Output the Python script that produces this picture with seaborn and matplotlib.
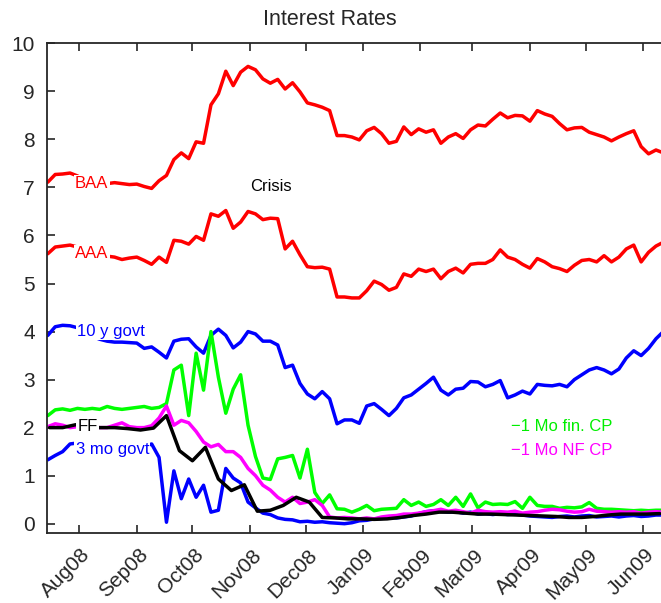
import pandas as pd
import matplotlib
matplotlib.use('Agg')
import matplotlib.pyplot as plt
import matplotlib.dates as mdates
import matplotlib.transforms as mtransforms
import seaborn as sns

# Daily-ish series, one value every 4 days from 15 Jul 2008
dates = pd.date_range('2008-07-15', periods=84, freq='4D')
# Fed funds is weekly (Wednesdays)
ff_dates = pd.date_range('2008-07-16', periods=48, freq='7D')

baa = [7.11, 7.27, 7.28, 7.30, 7.24, 7.15, 7.12, 7.10, 7.08, 7.10,
       7.08, 7.06, 7.07, 7.02, 6.98, 7.14, 7.25, 7.58, 7.72, 7.60,
       7.95, 7.92, 8.72, 8.95, 9.42, 9.12, 9.40, 9.52, 9.45, 9.26,
       9.17, 9.25, 9.05, 9.18, 8.99, 8.76, 8.72, 8.67, 8.60, 8.08,
       8.08, 8.05, 7.99, 8.18, 8.25, 8.12, 7.92, 7.96, 8.26, 8.10,
       8.22, 8.15, 8.20, 7.92, 8.05, 8.12, 8.02, 8.20, 8.30, 8.28,
       8.42, 8.55, 8.45, 8.50, 8.49, 8.38, 8.60, 8.53, 8.48, 8.33,
       8.20, 8.24, 8.25, 8.15, 8.10, 8.05, 7.97, 8.05, 8.12, 8.18,
       7.85, 7.70, 7.78, 7.72]

aaa = [5.62, 5.76, 5.78, 5.80, 5.76, 5.66, 5.60, 5.58, 5.57, 5.55,
       5.50, 5.53, 5.55, 5.48, 5.40, 5.55, 5.44, 5.90, 5.88, 5.82,
       5.98, 5.90, 6.45, 6.40, 6.52, 6.15, 6.28, 6.50, 6.45, 6.33,
       6.36, 6.35, 5.72, 5.88, 5.60, 5.35, 5.33, 5.34, 5.30, 4.72,
       4.72, 4.70, 4.70, 4.85, 5.05, 4.98, 4.86, 4.92, 5.20, 5.15,
       5.30, 5.25, 5.30, 5.10, 5.25, 5.32, 5.22, 5.40, 5.42, 5.42,
       5.50, 5.70, 5.55, 5.50, 5.40, 5.32, 5.52, 5.45, 5.35, 5.31,
       5.25, 5.38, 5.48, 5.50, 5.45, 5.58, 5.45, 5.55, 5.72, 5.80,
       5.45, 5.65, 5.78, 5.86]

govt_10y = [3.92, 4.10, 4.13, 4.12, 4.08, 3.98, 3.90, 3.84, 3.80, 3.78,
            3.78, 3.77, 3.76, 3.65, 3.68, 3.57, 3.45, 3.80, 3.84, 3.85,
            3.68, 3.55, 3.92, 4.05, 3.92, 3.66, 3.78, 4.00, 3.95, 3.80,
            3.80, 3.72, 3.25, 3.30, 2.92, 2.70, 2.60, 2.75, 2.60, 2.08,
            2.16, 2.16, 2.09, 2.45, 2.50, 2.38, 2.25, 2.40, 2.62, 2.68,
            2.80, 2.92, 3.05, 2.78, 2.68, 2.80, 2.82, 2.96, 2.95, 2.85,
            2.90, 2.98, 2.62, 2.68, 2.76, 2.70, 2.90, 2.88, 2.87, 2.90,
            2.85, 3.00, 3.10, 3.20, 3.25, 3.20, 3.12, 3.22, 3.45, 3.60,
            3.50, 3.65, 3.85, 4.00]

govt_3m = [1.33, 1.42, 1.50, 1.66, 1.68, 1.66, 1.64, 1.62, 1.60, 1.60,
           1.62, 1.63, 1.62, 1.60, 1.66, 1.38, 0.03, 1.10, 0.52, 0.93,
           0.55, 0.80, 0.24, 0.28, 1.15, 0.95, 0.85, 0.45, 0.33, 0.22,
           0.19, 0.12, 0.09, 0.08, 0.04, 0.05, 0.03, 0.04, 0.02, 0.01,
           0.00, 0.02, 0.06, 0.07, 0.10, 0.11, 0.13, 0.12, 0.14, 0.16,
           0.21, 0.25, 0.27, 0.26, 0.24, 0.25, 0.22, 0.24, 0.20, 0.21,
           0.19, 0.21, 0.19, 0.20, 0.18, 0.16, 0.15, 0.14, 0.13, 0.15,
           0.16, 0.14, 0.16, 0.17, 0.14, 0.15, 0.16, 0.14, 0.16, 0.17,
           0.15, 0.16, 0.18, 0.18]

fin_cp = [2.25, 2.37, 2.39, 2.36, 2.40, 2.38, 2.40, 2.38, 2.44, 2.40,
          2.38, 2.40, 2.42, 2.44, 2.40, 2.42, 2.50, 3.20, 3.30, 2.25,
          3.55, 2.78, 4.00, 3.05, 2.30, 2.80, 3.10, 2.05, 1.40, 0.95,
          0.92, 1.35, 1.38, 1.42, 0.95, 1.55, 0.65, 0.42, 0.60, 0.31,
          0.30, 0.24, 0.30, 0.38, 0.27, 0.30, 0.31, 0.32, 0.50, 0.38,
          0.45, 0.36, 0.40, 0.50, 0.38, 0.55, 0.36, 0.62, 0.33, 0.45,
          0.40, 0.41, 0.40, 0.46, 0.32, 0.55, 0.38, 0.36, 0.36, 0.32,
          0.34, 0.33, 0.35, 0.44, 0.32, 0.30, 0.30, 0.29, 0.28, 0.27,
          0.28, 0.27, 0.28, 0.28]

nf_cp = [2.02, 2.08, 2.05, 2.00, 2.02, 2.03, 2.02, 2.00, 2.00, 2.05,
         2.10, 2.02, 2.00, 2.00, 2.04, 2.20, 2.45, 2.05, 2.15, 2.10,
         1.92, 1.70, 1.60, 1.65, 1.50, 1.50, 1.38, 1.15, 1.00, 0.80,
         0.70, 0.55, 0.45, 0.55, 0.42, 0.45, 0.50, 0.38, 0.14, 0.12,
         0.13, 0.12, 0.10, 0.12, 0.10, 0.14, 0.16, 0.17, 0.20, 0.20,
         0.22, 0.25, 0.27, 0.30, 0.26, 0.28, 0.25, 0.22, 0.28, 0.25,
         0.24, 0.25, 0.24, 0.26, 0.22, 0.24, 0.25, 0.28, 0.30, 0.29,
         0.26, 0.24, 0.25, 0.30, 0.26, 0.25, 0.24, 0.25, 0.24, 0.25,
         0.22, 0.24, 0.25, 0.24]

fed_funds = [2.00, 2.00, 2.06, 2.00, 2.00, 2.00, 1.98, 1.95, 1.99, 2.25,
             1.52, 1.31, 1.59, 0.93, 0.69, 0.81, 0.26, 0.28, 0.38, 0.55,
             0.45, 0.13, 0.12, 0.10, 0.10, 0.09, 0.10, 0.13, 0.17, 0.20,
             0.24, 0.24, 0.22, 0.20, 0.20, 0.19, 0.18, 0.17, 0.16, 0.15,
             0.13, 0.13, 0.15, 0.18, 0.20, 0.20, 0.20, 0.21]

series = {'BAA': baa, 'AAA': aaa, '10 y govt': govt_10y, '3 mo govt': govt_3m,
          'fin CP': fin_cp, 'NF CP': nf_cp}
colors = {'BAA': '#ff0000', 'AAA': '#ff0000', '10 y govt': '#0000ff',
          '3 mo govt': '#0000ff', 'fin CP': '#00ff00', 'NF CP': '#ff00ff'}

long_df = pd.concat([pd.DataFrame({'date': dates, 'rate': v, 'series': k})
                     for k, v in series.items()], ignore_index=True)
ff_df = pd.DataFrame({'date': ff_dates, 'rate': fed_funds})

sns.set_style('ticks')
plt.rcParams['font.family'] = ['Liberation Sans', 'DejaVu Sans']

fig = plt.figure(figsize=(6.61, 6.03), dpi=100)
ax = fig.add_axes([0.0716, 0.1156, 0.9284, 0.8125])

sns.lineplot(data=long_df, x='date', y='rate', hue='series', palette=colors,
             hue_order=list(series.keys()), linewidth=2.5, legend=False, ax=ax)
sns.lineplot(data=ff_df, x='date', y='rate', color='black', linewidth=2.5, ax=ax)

ax.set_xlim(pd.Timestamp('2008-07-14 18:00'), pd.Timestamp('2009-06-10 17:00'))
ax.set_ylim(-0.2, 10)
ax.set_yticks(range(0, 11))
ax.xaxis.set_major_locator(mdates.MonthLocator())
ax.xaxis.set_major_formatter(mdates.DateFormatter('%b%y'))
ax.set_xlabel('')
ax.set_ylabel('')
ax.tick_params(axis='both', direction='in', labelsize=15, length=6, width=1.2)
ax.tick_params(axis='x', top=True, pad=6)
ax.tick_params(axis='y', pad=9)
shift = mtransforms.ScaledTranslation(0.015, -0.035, fig.dpi_scale_trans)
for lab in ax.get_xticklabels():
    lab.set_rotation(45)
    lab.set_ha('right')
    lab.set_rotation_mode('anchor')
    lab.set_transform(lab.get_transform() + shift)
for side in ['left', 'bottom', 'top']:
    ax.spines[side].set_linewidth(1.3)
ax.spines['right'].set_visible(False)

box = dict(facecolor='white', edgecolor='none', pad=1)
labels = [
    ('2008-07-29 16:00', 7.08, 'BAA', '#ff0000'),
    ('2008-07-29 16:00', 5.62, 'AAA', '#ff0000'),
    ('2008-11-01', 7.02, 'Crisis', 'black'),
    ('2008-07-31', 4.00, '10 y govt', '#0000ff'),
    ('2008-07-31', 2.02, 'FF', 'black'),
    ('2008-07-30', 1.54, '3 mo govt', '#0000ff'),
    ('2009-03-22', 2.02, '\u22121 Mo fin. CP', '#00ee00'),
    ('2009-03-22', 1.52, '\u22121 Mo NF CP', '#ff00ff'),
]
for d, y, txt, c in labels:
    ax.text(pd.Timestamp(d), y, txt, color=c, fontsize=12, ha='left',
            va='center', bbox=box, zorder=5)

fig.text(0.499, 0.968, 'Interest Rates', ha='center', va='center', fontsize=15.5)

fig.savefig('out.png', dpi=100)
